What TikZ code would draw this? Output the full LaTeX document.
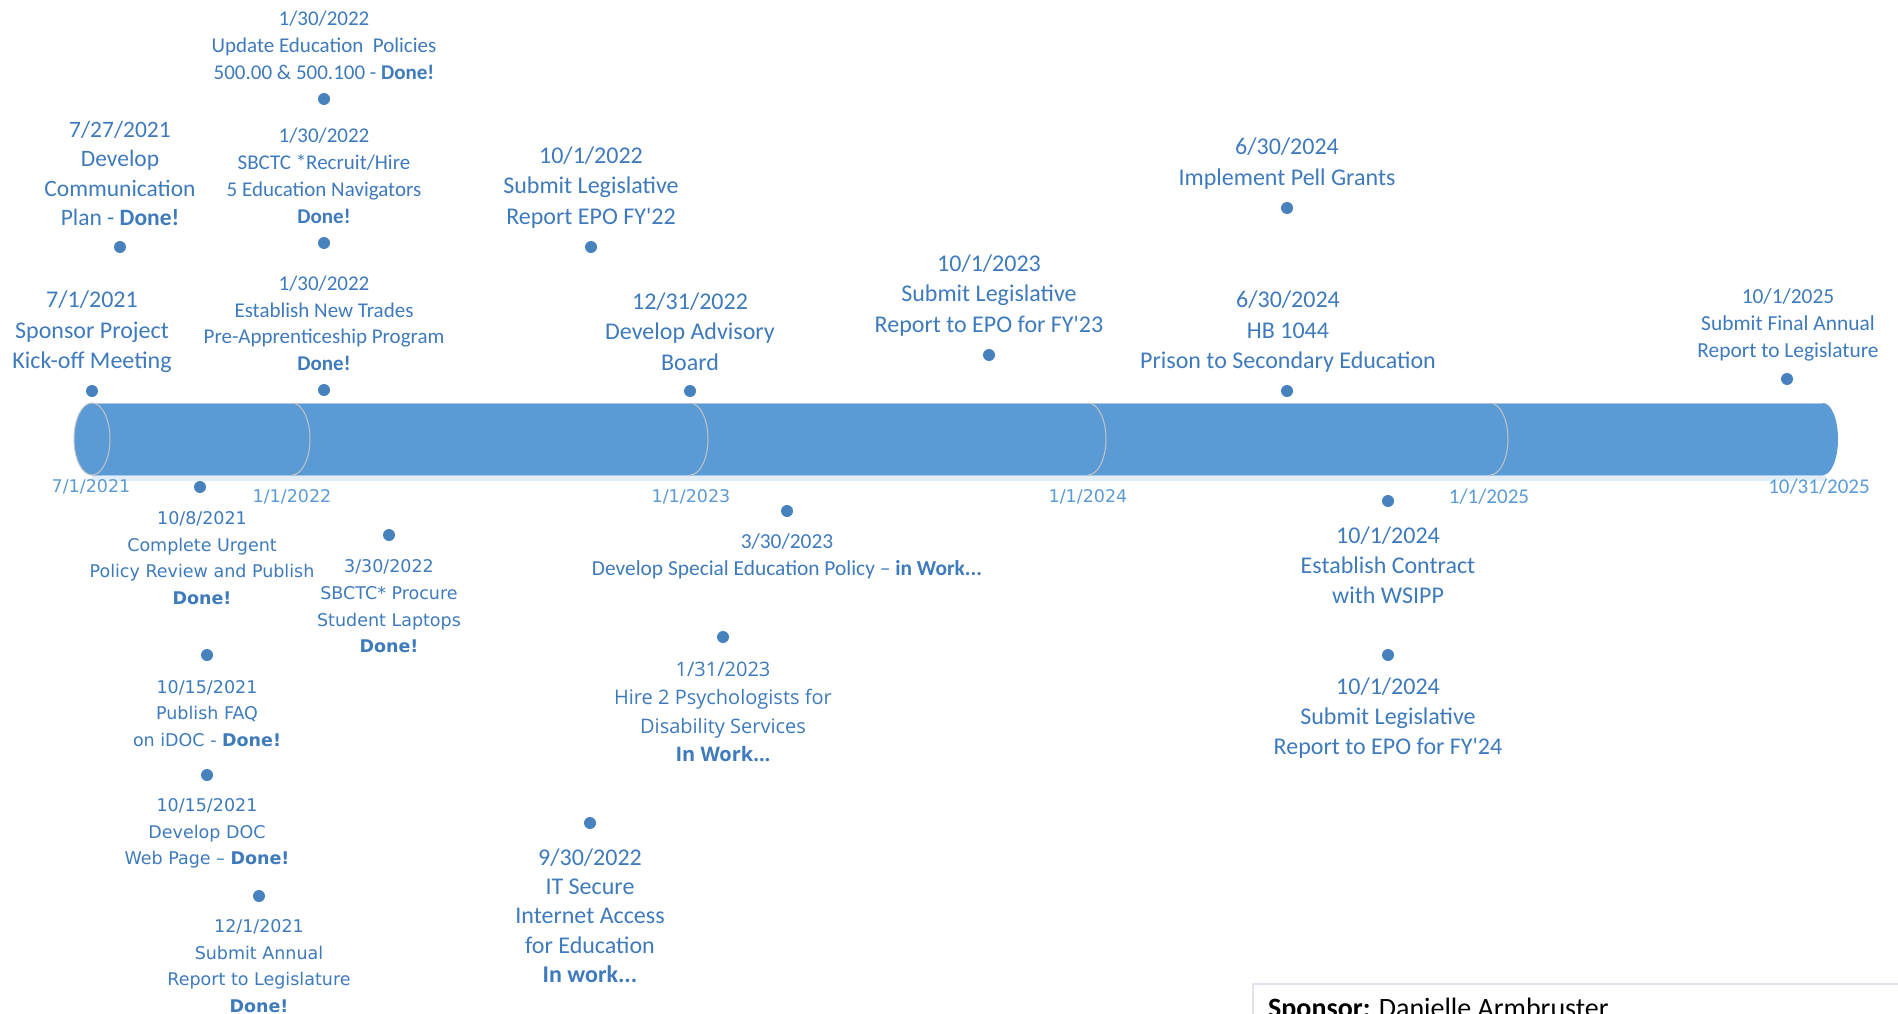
\documentclass[tikz,border=0pt]{standalone}
\usepackage{fontspec}
\setmainfont{Carlito}
\newfontfamily\verdfont{DejaVu Sans}
\newfontfamily\segfont{Open Sans}
\usetikzlibrary{positioning}

\definecolor{tubeblue}{HTML}{5B9BD5}
\definecolor{edgeblue}{HTML}{A9C8EA}
\definecolor{txtblue}{RGB}{62,122,188}
\definecolor{dotblue}{RGB}{72,130,190}
\definecolor{axisblue}{HTML}{5B9BD5}
\definecolor{ringgray}{RGB}{196,196,196}
\definecolor{boxgray}{RGB}{222,228,236}

\begin{document}
\begin{tikzpicture}[x=1pt,y=-1pt,
  dot/.style={circle, fill=dotblue, minimum size=12pt, inner sep=0pt},
  ms/.style={align=center, text=txtblue, inner sep=0pt, yshift=-2.4pt},
  cal/.style 2 args={ms, font=\fontsize{#1}{#2}\selectfont},
  verd/.style={ms, font=\verdfont\fontsize{17.5}{26.6}\selectfont},
  seg/.style={ms, font=\segfont\fontsize{20}{28.2}\selectfont},
  ax/.style={text=axisblue, inner sep=0pt}]
  \useasboundingbox (0,0) rectangle (1898,1014);
  \clip (0,0) rectangle (1898,1014);

  % the tube
  \fill[tubeblue!18] (92,475) rectangle (1826,481);
  \fill[tubeblue] (92,403) -- (1823,403) arc[start angle=90, end angle=-90, x radius=15pt, y radius=36pt] -- (92,475) -- cycle;
  \draw[edgeblue, line width=1pt] (92,403) -- (1823,403);
  \draw[edgeblue, line width=1pt] (92,475) -- (1823,475);
  \draw[ringgray, line width=1pt, fill=tubeblue] (92,439) ellipse[x radius=18pt, y radius=36pt];
  \foreach \yr in {292,690,1088,1490}
    \draw[ringgray, line width=1pt] (\yr,403) arc[start angle=90, end angle=-90, x radius=18pt, y radius=36pt];

  \node[ax, font=\verdfont\fontsize{17.5}{21}\selectfont] (t2021) at (91,487) {7/1/2021};
  \node[ax, font=\verdfont\fontsize{17.5}{21}\selectfont] (t2022) at (292,497) {1/1/2022};
  \node[ax, font=\verdfont\fontsize{17.5}{21}\selectfont] (t2023) at (691,497) {1/1/2023};
  \node[ax, font=\verdfont\fontsize{17.5}{21}\selectfont] (t2024) at (1088,497) {1/1/2024};
  \node[ax, font=\fontsize{21}{25}\selectfont] (t2025) at (1489,497) {1/1/2025};
  \node[ax, font=\fontsize{21}{25}\selectfont] (tend) at (1819,487) {10/31/2025};

  % above the tube
  \node[dot] (d-kickoff) at (92,391) {};
  \node[cal={24}{30.2}] (kickoff) at (92,329.5) {7/1/2021\\Sponsor Project\\Kick-off Meeting};
  \node[dot] (d-comm) at (120,247) {};
  \node[cal={23.5}{29.5}] (comm) at (120,171) {7/27/2021\\Develop\\Communication\\Plan - \textbf{Done!}};
  \node[dot] (d-policies) at (324,99) {};
  \node[cal={21}{27.2}] (policies) at (324,43) {1/30/2022\\Update Education\ \ Policies\\500.00 \& 500.100 - \textbf{Done!}};
  \node[dot] (d-navig) at (324,243) {};
  \node[cal={21}{27.1}] (navig) at (324,173.7) {1/30/2022\\SBCTC *Recruit/Hire\\5 Education Navigators\\\textbf{Done!}};
  \node[dot] (d-trades) at (324,390) {};
  \node[cal={21}{26.6}] (trades) at (324,320.8) {1/30/2022\\Establish New Trades\\Pre-Apprenticeship Program\\\textbf{Done!}};
  \node[dot] (d-fy22) at (591,247) {};
  \node[cal={24}{30.2}] (fy22) at (591,185.2) {10/1/2022\\Submit Legislative\\Report EPO FY\textquotesingle22};
  \node[dot] (d-board) at (690,391) {};
  \node[cal={24}{30.2}] (board) at (690,329.3) {12/31/2022\\Develop Advisory\\Board};
  \node[dot] (d-fy23) at (989,355) {};
  \node[cal={24}{30.2}] (fy23) at (989,293) {10/1/2023\\Submit Legislative\\Report to EPO for FY\textquotesingle23};
  \node[dot] (d-pell) at (1287,208) {};
  \node[cal={24}{31.4}] (pell) at (1287,161) {6/30/2024\\Implement Pell Grants};
  \node[dot] (d-hb) at (1287,391) {};
  \node[cal={24}{30.2}] (hb) at (1288,329.3) {6/30/2024\\HB 1044\\Prison to Secondary Education};
  \node[dot] (d-final) at (1787,379) {};
  \node[cal={21.4}{27.2}] (final) at (1788,322.6) {10/1/2025\\Submit Final Annual\\Report to Legislature};

  % below the tube
  \node[dot] (d-urgent) at (200,487) {};
  \node[verd] (urgent) at (202,555.6) {10/8/2021\\Complete Urgent\\Policy Review and Publish\\\textbf{Done!}};
  \node[dot] (d-laptops) at (389,535) {};
  \node[verd] (laptops) at (389,604) {3/30/2022\\SBCTC* Procure\\Student Laptops\\\textbf{Done!}};
  \node[dot] (d-faq) at (207,655) {};
  \node[verd] (faq) at (207,711.2) {10/15/2021\\Publish FAQ\\on iDOC - \textbf{Done!}};
  \node[dot] (d-web) at (207,775) {};
  \node[verd] (web) at (207,831) {10/15/2021\\Develop DOC\\Web Page \textendash{} \textbf{Done!}};
  \node[dot] (d-annual) at (259,896) {};
  \node[verd] (annual) at (259,963.6) {12/1/2021\\Submit Annual\\Report to Legislature\\\textbf{Done!}};
  \node[dot] (d-special) at (787,511) {};
  \node[cal={21.4}{27.8}] (special) at (787,553.8) {3/30/2023\\Develop Special Education Policy \textendash{} \textbf{in Work...}};
  \node[dot] (d-psych) at (723,637) {};
  \node[seg] (psych) at (723,709.4) {1/31/2023\\Hire 2 Psychologists for\\Disability Services\\\textbf{In Work...}};
  \node[dot] (d-internet) at (590,823) {};
  \node[cal={24}{29.35}] (internet) at (590,913.3) {9/30/2022\\IT Secure\\Internet Access\\for Education\\\textbf{In work...}};
  \node[dot] (d-wsipp) at (1388,501) {};
  \node[cal={24}{30.2}] (wsipp) at (1388,562.9) {10/1/2024\\Establish Contract\\with WSIPP};
  \node[dot] (d-fy24) at (1388,655) {};
  \node[cal={24}{30.2}] (fy24) at (1388,715.4) {10/1/2024\\Submit Legislative\\Report to EPO for FY\textquotesingle24};

  \draw[boxgray, line width=1.2pt, fill=white] (1253,984) rectangle (1910,1040);
  \node[anchor=base west, inner sep=0pt, font=\fontsize{28}{34}\selectfont] (sponsor) at (1268,1017) {\textbf{Sponsor:} Danielle Armbruster};
\end{tikzpicture}
\end{document}
